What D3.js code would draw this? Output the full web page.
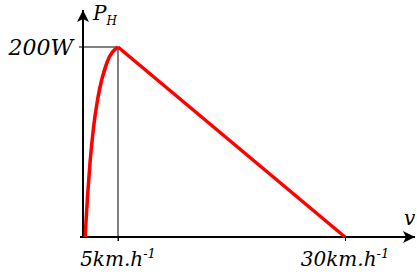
<!DOCTYPE html>
<html>
<head>
<meta charset="utf-8">
<script src="https://cdn.jsdelivr.net/npm/d3@7"></script>
<style>
body { margin: 0; background: #fff; }
text { font-family: "DejaVu Serif", serif; font-style: italic; fill: #000; }
</style>
</head>
<body>
<div id="chart"></div>
<script>
// speed (km/h) and power (W)
var riseSpeed = [0.3, 0.64, 1.0, 1.47, 2.14, 3.39, 5];
var risePower = [0, 42, 78, 113, 147, 183, 200];
var fallSpeed = [5, 30];
var fallPower = [200, 0];
var xTicks = [5, 30];
var yTicks = [200];

var W = 417, H = 277;
var svg = d3.select("#chart").append("svg")
	.attr("width", W)
	.attr("height", H);

// schematic axis: origin is not to scale
var x = d3.scaleLinear().domain([0, 5, 30]).range([83, 118, 345]),
	y = d3.scaleLinear().domain([0, 200]).range([237, 47]);

var defs = svg.append("defs");
defs.append("marker")
	.attr("id", "arrow")
	.attr("viewBox", "0 0 10 10")
	.attr("refX", 10).attr("refY", 5)
	.attr("markerWidth", 16).attr("markerHeight", 12)
	.attr("markerUnits", "userSpaceOnUse")
	.attr("orient", "auto")
	.append("path")
	.attr("d", "M0,0 L10,5 L0,10 L2.5,5 Z")
	.style("fill", "#000");

// guide lines to the peak
svg.append("line")
	.attr("x1", x(0) - 4).attr("y1", y(yTicks[0]))
	.attr("x2", x(xTicks[0])).attr("y2", y(yTicks[0]))
	.style("stroke", "#000").style("stroke-width", 1);
svg.append("line")
	.attr("x1", x(xTicks[0])).attr("y1", y(yTicks[0]))
	.attr("x2", x(xTicks[0])).attr("y2", y(0) + 4)
	.style("stroke", "#000").style("stroke-width", 1);

// x axis ticks
var xAxis = svg.append("g")
	.attr("transform", "translate(0," + y(0) + ")")
	.call(d3.axisBottom(x).tickValues(xTicks).tickSize(4).tickFormat(""));
xAxis.select(".domain").remove();
xAxis.selectAll("line").style("stroke-width", 1);

// axes with arrows
svg.append("line")
	.attr("x1", x(0) - 3).attr("y1", y(0))
	.attr("x2", 415).attr("y2", y(0))
	.style("stroke", "#000").style("stroke-width", 2)
	.attr("marker-end", "url(#arrow)");
svg.append("line")
	.attr("x1", x(0)).attr("y1", y(0) + 1)
	.attr("x2", x(0)).attr("y2", 10)
	.style("stroke", "#000").style("stroke-width", 2)
	.attr("marker-end", "url(#arrow)");

// power curve
var line = d3.line()
	.x(function(d){ return x(d[0]); })
	.y(function(d){ return y(d[1]); });

var rise = d3.line()
	.x(function(d){ return x(d[0]); })
	.y(function(d){ return y(d[1]); })
	.curve(d3.curveMonotoneX);

svg.append("path")
	.attr("d", rise(d3.zip(riseSpeed, risePower)))
	.style("fill", "none").style("stroke", "#ff0000").style("stroke-width", 3.5);
svg.append("path")
	.attr("d", line(d3.zip(fallSpeed, fallPower)))
	.style("fill", "none").style("stroke", "#ff0000").style("stroke-width", 3.5)
	.style("stroke-linejoin", "round");

// labels
svg.append("text")
	.attr("x", x(0) - 10).attr("y", y(yTicks[0]) + 8)
	.attr("text-anchor", "end")
	.style("font-size", "22px")
	.text(yTicks[0] + "W");

xTicks.forEach(function(v){
	var t = svg.append("text")
		.attr("x", x(v)).attr("y", 266)
		.attr("text-anchor", "middle")
		.style("font-size", "20px");
	t.append("tspan").text(v + "km.h");
	t.append("tspan").attr("dy", -8).style("font-size", "13px").text("-1");
});

var p = svg.append("text")
	.attr("x", 93).attr("y", 20)
	.style("font-size", "20px");
p.append("tspan").text("P");
p.append("tspan").attr("dy", 5).style("font-size", "12px").text("H");

svg.append("text")
	.attr("x", 404).attr("y", 225)
	.style("font-size", "20px")
	.text("v");
</script>
</body>
</html>
